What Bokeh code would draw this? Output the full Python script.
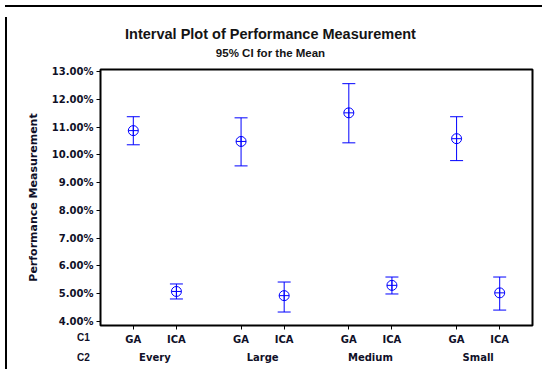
from bokeh.plotting import figure
from bokeh.layouts import column, row
from bokeh.models import (ColumnDataSource, FactorRange, Whisker, TeeHead, Label, Div,
                          PrintfTickFormatter, FixedTicker)
from bokeh.embed import file_html
from bokeh.resources import INLINE

# ---- data (percent) ----
c2_groups = ["Every", "Large", "Medium", "Small"]
c1_levels = ["GA", "ICA"]
means = [10.87, 5.08, 10.48, 4.93, 11.51, 5.30, 10.58, 5.03]
upper = [11.37, 5.35, 11.33, 5.42, 12.56, 5.60, 11.37, 5.60]
lower = [10.36, 4.81, 9.60, 4.34, 10.43, 4.99, 9.79, 4.41]
y_ticks = [4, 5, 6, 7, 8, 9, 10, 11, 12, 13]

title_text = "Interval Plot of Performance Measurement"
subtitle_text = "95% CI for the Mean"
y_label = "Performance Measurement"
row1_name = "C1"
row2_name = "C2"

factors = [(g, c) for g in c2_groups for c in c1_levels]
src = ColumnDataSource(dict(x=factors, m=means, up=upper, lo=lower))

BLUE = "#0000FF"
TXT = "#101028"
FONT = "DejaVu Sans"

xr = FactorRange(*factors, group_padding=0.5, factor_padding=0.0,
                 range_padding=0.055, range_padding_units="percent")

p = figure(x_range=xr, y_range=(3.855, 13.07), frame_width=432, frame_height=256,
           output_backend="svg", toolbar_location=None,
           min_border_left=88, min_border_right=8, min_border_top=57,
           min_border_bottom=30)

p.xgrid.grid_line_color = None
p.ygrid.grid_line_color = None
p.outline_line_color = "black"
p.outline_line_width = 2

# y axis
ya = p.yaxis[0]
ya.ticker = FixedTicker(ticks=y_ticks)
ya.formatter = PrintfTickFormatter(format="%.2f%%")
ya.minor_tick_line_color = None
ya.major_tick_in = 0
ya.major_tick_out = 4
ya.axis_line_color = None
ya.major_label_text_font = FONT
ya.major_label_text_font_style = "bold"
ya.major_label_text_font_size = "10px"
ya.major_label_text_color = TXT
ya.major_label_standoff = 3
ya.axis_label = y_label
ya.axis_label_text_font = FONT
ya.axis_label_text_font_style = "bold"
ya.axis_label_text_font_size = "11px"
ya.axis_label_text_color = TXT
ya.axis_label_standoff = 9

# x axis
xa = p.xaxis[0]
xa.axis_line_color = None
xa.major_tick_in = 0
xa.major_tick_out = 4
xa.major_label_text_font = FONT
xa.major_label_text_font_style = "bold"
xa.major_label_text_font_size = "10px"
xa.major_label_text_color = TXT
xa.major_label_standoff = 4
xa.group_text_font = FONT
xa.group_text_font_style = "bold"
xa.group_text_font_size = "10px"
xa.group_text_color = TXT
xa.separator_line_color = None
xa.major_label_orientation = "horizontal"
xa.group_label_orientation = "horizontal"

# intervals
w = Whisker(source=src, base="x", upper="up", lower="lo", dimension="height",
            line_color=BLUE, line_width=1,
            upper_head=TeeHead(size=13, line_color=BLUE, line_width=1),
            lower_head=TeeHead(size=13, line_color=BLUE, line_width=1))
p.add_layout(w)
p.scatter("x", "m", source=src, marker="circle_cross", size=10,
          line_color=BLUE, fill_color=None, line_width=1)

# titles in side panels above
p.add_layout(Label(x=170, y=17, x_units="screen", y_units="screen", text=subtitle_text,
                   text_font="Liberation Sans", text_font_style="bold",
                   text_font_size="11.5px", text_color="#141414", text_line_height=1.0,
                   text_align="center", text_baseline="middle"), "above")
p.add_layout(Label(x=170, y=24, x_units="screen", y_units="screen", text=title_text,
                   text_font="Liberation Sans", text_font_style="bold",
                   text_font_size="14.5px", text_color="#141414", text_line_height=1.0,
                   text_align="center", text_baseline="middle"), "above")
# row names (also in side panels above, drawn below the plot)
p.add_layout(Label(x=-17, y=-296, x_units="screen", y_units="screen", text=row1_name,
                   text_font="Liberation Sans", text_font_style="bold", text_font_size="10px",
                   text_line_height=1.0, text_color=TXT,
                   text_align="center", text_baseline="middle"), "above")
p.add_layout(Label(x=-17, y=-327, x_units="screen", y_units="screen", text=row2_name,
                   text_font="Liberation Sans", text_font_style="bold", text_font_size="10px",
                   text_line_height=1.0, text_color=TXT,
                   text_align="center", text_baseline="middle"), "above")

top_bar = Div(width=537, height=2, styles={"background-color": "black"})
left_bar = Div(width=2, height=352, styles={"background-color": "black"})
layout = column(top_bar, row(left_bar, p))

open("out.html", "w").write(file_html(layout, INLINE))
